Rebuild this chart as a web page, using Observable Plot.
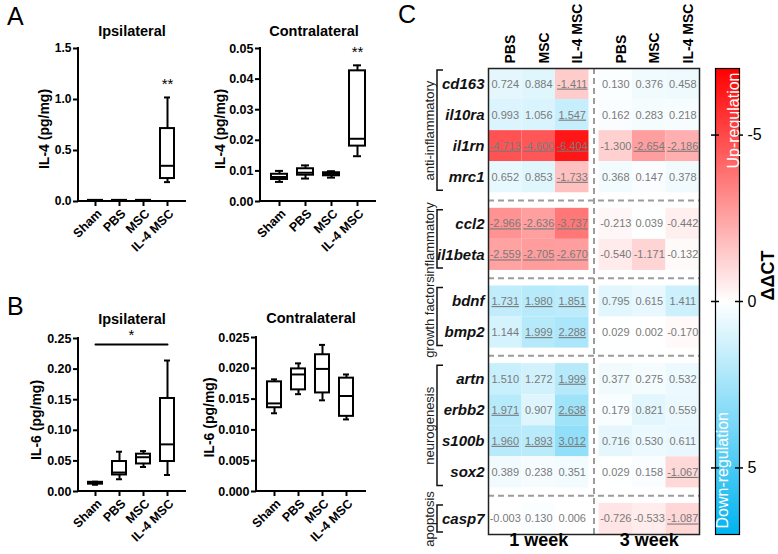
<!DOCTYPE html>
<html><head><meta charset="utf-8">
<script src="https://cdn.jsdelivr.net/npm/d3@7"></script>
<script src="https://cdn.jsdelivr.net/npm/@observablehq/plot@0.6"></script>
<style>
body{margin:0;background:#fff;}
#root{position:relative;width:778px;height:554px;overflow:hidden;background:#fff;font-family:"Liberation Sans",Arial,sans-serif;}
#root > svg{position:absolute;}
</style></head><body><div id="root"></div>
<script>
// ---------- Panels A & B: box-plot summaries ----------
const groups = ["Sham", "PBS", "MSC", "IL-4 MSC"];

const il4IpsiMin = [0.005, 0.005, 0.005, 0.19];
const il4IpsiQ1  = [0.007, 0.007, 0.007, 0.225];
const il4IpsiMed = [0.009, 0.009, 0.009, 0.35];
const il4IpsiQ3  = [0.011, 0.011, 0.011, 0.715];
const il4IpsiMax = [0.013, 0.013, 0.013, 1.02];
const il4IpsiStars = ["", "", "", "**"];

const il4ContraMin = [0.0064, 0.0075, 0.0078, 0.0148];
const il4ContraQ1  = [0.0072, 0.0086, 0.0084, 0.0181];
const il4ContraMed = [0.0080, 0.0094, 0.0090, 0.0205];
const il4ContraQ3  = [0.0089, 0.0107, 0.0094, 0.0427];
const il4ContraMax = [0.0100, 0.0118, 0.0099, 0.0445];
const il4ContraStars = ["", "", "", "**"];

const il6IpsiMin = [0.011, 0.020, 0.040, 0.027];
const il6IpsiQ1  = [0.012, 0.027, 0.045, 0.049];
const il6IpsiMed = [0.014, 0.031, 0.056, 0.077];
const il6IpsiQ3  = [0.015, 0.049, 0.061, 0.152];
const il6IpsiMax = [0.016, 0.065, 0.066, 0.214];
const il6IpsiSig = [{g: "Sham", y: 0.24}, {g: "IL-4 MSC", y: 0.24}];
const il6IpsiSigLabel = "*";

const il6ContraMin = [0.0127, 0.0158, 0.0148, 0.0117];
const il6ContraQ1  = [0.0136, 0.0165, 0.0160, 0.0122];
const il6ContraMed = [0.0143, 0.0190, 0.0199, 0.0155];
const il6ContraQ3  = [0.0178, 0.0199, 0.0222, 0.0184];
const il6ContraMax = [0.0182, 0.0208, 0.0238, 0.0190];

const il4IpsiTicks = [0, 0.5, 1.0, 1.5];
const il4ContraTicks = [0, 0.01, 0.02, 0.03, 0.04, 0.05];
const il6IpsiTicks = [0, 0.05, 0.10, 0.15, 0.20, 0.25];
const il6ContraTicks = [0, 0.005, 0.010, 0.015, 0.020, 0.025];

// ---------- Panel C: heatmap ----------
const groupNames = ["anti-inflammatory", "inflammatory", "growth factors", "neurogenesis", "apoptosis"];
const groupGenes = [["cd163", "il10ra", "il1rn", "mrc1"], ["ccl2", "il1beta"], ["bdnf", "bmp2"],
                    ["artn", "erbb2", "s100b", "sox2"], ["casp7"]];
const treatments = ["PBS", "MSC", "IL-4 MSC"];
const weeks = ["1 week", "3 week"];
const ddct1w = [
  [0.724, 0.884, -1.411], [0.993, 1.056, 1.547], [-4.713, -4.600, -6.404], [0.652, 0.853, -1.733],
  [-2.966, -2.636, -3.737], [-2.559, -2.705, -2.670],
  [1.731, 1.980, 1.851], [1.144, 1.999, 2.288],
  [1.510, 1.272, 1.999], [1.971, 0.907, 2.638], [1.960, 1.893, 3.012], [0.389, 0.238, 0.351],
  [-0.003, 0.130, 0.006]
];
const sig1w = [
  [0, 0, 1], [0, 0, 1], [1, 1, 1], [0, 0, 1],
  [1, 1, 1], [1, 1, 1],
  [1, 1, 1], [0, 1, 1],
  [0, 0, 1], [1, 0, 1], [1, 1, 1], [0, 0, 0],
  [0, 0, 0]
];
const ddct3w = [
  [0.130, 0.376, 0.458], [0.162, 0.283, 0.218], [-1.300, -2.654, -2.186], [0.368, 0.147, 0.378],
  [-0.213, 0.039, -0.442], [-0.540, -1.171, -0.132],
  [0.795, 0.615, 1.411], [0.029, 0.002, -0.170],
  [0.377, 0.275, 0.532], [0.179, 0.821, 0.559], [0.716, 0.530, 0.611], [0.029, 0.158, -1.067],
  [-0.726, -0.533, -1.087]
];
const sig3w = [
  [0, 0, 0], [0, 0, 0], [0, 1, 1], [0, 0, 0],
  [0, 0, 0], [0, 0, 0],
  [0, 0, 0], [0, 0, 0],
  [0, 0, 0], [0, 0, 0], [0, 0, 0], [0, 0, 1],
  [0, 0, 1]
];
const colorTicks = [-5, 0, 5];
const colorDomain = [-7, 0, 7];
const colorRange = ["#ff0000", "#ffffff", "#00b4f0"];

// ---------- helpers ----------
const root = document.getElementById("root");
const FONT = '"Liberation Sans", Arial, sans-serif';
function place(svg, left, top) { svg.style.left = left + "px"; svg.style.top = top + "px"; root.appendChild(svg); }

function axisLines(index, scales, values, dim) {
  const {width, height, marginLeft, marginRight, marginTop, marginBottom} = dim;
  const p = document.createElementNS("http://www.w3.org/2000/svg", "path");
  p.setAttribute("d", `M${marginLeft},${marginTop}V${height - marginBottom}H${width - marginRight}`);
  p.setAttribute("fill", "none"); p.setAttribute("stroke", "#000"); p.setAttribute("stroke-width", 2);
  p.setAttribute("stroke-linecap", "square");
  return p;
}

function boxChart(c) {
  const data = groups.map((g, i) => ({g, min: c.min[i], q1: c.q1[i], med: c.med[i], q3: c.q3[i], max: c.max[i],
    star: c.stars ? c.stars[i] : ""}));
  const marks = [
    Plot.ruleX(data, {x: "g", y1: "min", y2: "q1", stroke: "#000", strokeWidth: 2}),
    Plot.ruleX(data, {x: "g", y1: "q3", y2: "max", stroke: "#000", strokeWidth: 2}),
    Plot.tickY(data, {x: "g", y: "min", stroke: "#000", strokeWidth: 2, insetLeft: 4, insetRight: 4}),
    Plot.tickY(data, {x: "g", y: "max", stroke: "#000", strokeWidth: 2, insetLeft: 4, insetRight: 4}),
    Plot.barY(data, {x: "g", y1: "q1", y2: "q3", fill: "#fff", stroke: "#000", strokeWidth: 2}),
    Plot.tickY(data, {x: "g", y: "med", stroke: "#000", strokeWidth: 2}),
    Plot.axisY({ticks: c.ticks, tickFormat: d3.format(c.fmt), tickSize: 5, tickPadding: 2, strokeWidth: 2,
      fontSize: c.fs, label: null}),
    Plot.axisX({tickSize: 5, strokeWidth: 2, tickFormat: () => "", label: null}),
    Plot.axisX({tickSize: 0, tickRotate: -45, fontSize: 12.5, label: null, tickPadding: 6, dx: 4, dy: 4}),
    axisLines,
    Plot.text([c.title], {frameAnchor: "top", dy: c.titleDy, dx: c.titleDx || 0, fontSize: 14.5, fontWeight: "bold"}),
    Plot.text([c.yLabel], {frameAnchor: "left", textAnchor: "middle", dx: c.labelDx, dy: c.labelDy || 0, rotate: -90, fontSize: 14, fontWeight: "bold"}),
    Plot.text(data.filter(d => d.star), {x: "g", y: "max", text: "star", dy: -13, fontSize: 15, fontWeight: "normal"})
  ];
  if (c.sig) {
    marks.push(Plot.line(c.sig, {x: "g", y: "y", stroke: "#000", strokeWidth: 2}));
    marks.push(Plot.text([c.sigLabel], {x: () => "PBS", y: () => c.sig[0].y, dx: 12, dy: -9, fontSize: 15, fontWeight: "normal"}));
  }
  return Plot.plot({
    width: c.width, height: c.height,
    marginLeft: c.ml, marginRight: c.mr, marginTop: c.mt, marginBottom: c.mb,
    style: {fontFamily: FONT, fontWeight: "bold", color: "#000", background: "transparent", overflow: "visible"},
    x: {type: "band", domain: groups, padding: 0.4, label: null},
    y: {domain: c.domain, label: null},
    marks
  });
}

// ---------- Panel A ----------
place(boxChart({min: il4IpsiMin, q1: il4IpsiQ1, med: il4IpsiMed, q3: il4IpsiQ3, max: il4IpsiMax, stars: il4IpsiStars,
  ticks: il4IpsiTicks, fmt: ".1f", domain: [0, 1.5], fs: 12, title: "Ipsilateral", titleDy: -23, yLabel: "IL-4 (pg/mg)",
  labelDx: -34, labelDy: 4, width: 190, height: 270, ml: 78, mr: 5, mt: 48, mb: 69}), 0, 0);

place(boxChart({min: il4ContraMin, q1: il4ContraQ1, med: il4ContraMed, q3: il4ContraQ3, max: il4ContraMax, stars: il4ContraStars,
  ticks: il4ContraTicks, fmt: ".2f", domain: [0, 0.05], fs: 12.5, title: "Contralateral", titleDy: -23, titleDx: -4, yLabel: "IL-4 (pg/mg)",
  labelDx: -40, labelDy: 4, width: 190, height: 270, ml: 70, mr: 5, mt: 48, mb: 69}), 190, 0);

// ---------- Panel B ----------
place(boxChart({min: il6IpsiMin, q1: il6IpsiQ1, med: il6IpsiMed, q3: il6IpsiQ3, max: il6IpsiMax,
  sig: il6IpsiSig, sigLabel: il6IpsiSigLabel,
  ticks: il6IpsiTicks, fmt: ".2f", domain: [0, 0.25], fs: 12.5, title: "Ipsilateral", titleDy: -25, yLabel: "IL-6 (pg/mg)",
  labelDx: -42, labelDy: 5, width: 190, height: 284, ml: 78, mr: 5, mt: 68, mb: 63}), 0, 270);

place(boxChart({min: il6ContraMin, q1: il6ContraQ1, med: il6ContraMed, q3: il6ContraQ3, max: il6ContraMax,
  ticks: il6ContraTicks, fmt: ".3f", domain: [0, 0.025], fs: 12.5, title: "Contralateral", titleDy: -25, yLabel: "IL-6 (pg/mg)",
  labelDx: -47, labelDy: 3, width: 190, height: 284, ml: 66, mr: 15, mt: 67, mb: 63}), 190, 270);

// ---------- Panel C: heatmap layout from structure ----------
const rowGap = 0.5, colGap = 0.3;
const rows = [], groupSpans = [], gapCenters = [];
let pos = 0;
groupGenes.forEach((genes, gi) => {
  if (gi > 0) { gapCenters.push(pos + rowGap / 2); pos += rowGap; }
  const start = pos;
  genes.forEach(gene => { rows.push({gene, y1: pos}); pos += 1; });
  groupSpans.push({name: groupNames[gi], y1: start, y2: pos, mid: (start + pos) / 2});
});
const rowsTotal = pos;
const colStep = treatments.length + colGap;
const cols = [];
weeks.forEach((wk, wi) => treatments.forEach((t, ti) => cols.push({wk, wi, t, ti, x1: wi * colStep + ti})));
const colsTotal = weeks.length * colStep - colGap;
const weekLabels = weeks.map((wk, wi) => ({wk, x: wi * colStep + treatments.length / 2}));
const weekGaps = weeks.slice(1).map((wk, wi) => (wi + 1) * colStep - colGap / 2);

const cells = [];
rows.forEach((r, ri) => cols.forEach(c => {
  const v = (c.wi === 0 ? ddct1w : ddct3w)[ri][c.ti];
  const s = (c.wi === 0 ? sig1w : sig3w)[ri][c.ti];
  cells.push({x1: c.x1, x2: c.x1 + 1, y1: r.y1, y2: r.y1 + 1, v, s, label: v.toFixed(3)});
}));

const colorCfg = {type: "linear", domain: colorDomain, range: colorRange, interpolate: "rgb", clamp: true};

function brackets(index, scales, values, dim) {
  const g = document.createElementNS("http://www.w3.org/2000/svg", "g");
  g.setAttribute("fill", "none"); g.setAttribute("stroke", "#111"); g.setAttribute("stroke-width", 1.5);
  const x = dim.marginLeft - 51, x2 = x + 6;
  for (const s of groupSpans) {
    const a = scales.y(s.y1) + 2, b = scales.y(s.y2) - 2;
    const p = document.createElementNS("http://www.w3.org/2000/svg", "path");
    p.setAttribute("d", `M${x2},${a}H${x}V${b}H${x2}`);
    g.appendChild(p);
  }
  return g;
}

const heat = Plot.plot({
  width: 310, height: 554, marginLeft: 88, marginRight: 11, marginTop: 68, marginBottom: 20,
  style: {fontFamily: FONT, fontSize: "12px", color: "#000", background: "transparent", overflow: "visible"},
  x: {type: "linear", domain: [0, colsTotal], axis: null},
  y: {type: "linear", domain: [0, rowsTotal], reverse: true, axis: null},
  color: colorCfg,
  marks: [
    Plot.rect(cells, {x1: "x1", x2: "x2", y1: "y1", y2: "y2", fill: "v"}),
    Plot.text(cells, {x: d => d.x1 + 0.5, y: d => d.y1 + 0.5, text: "label", fill: "#7a7a7a", fontSize: 11}),
    Plot.ruleY(gapCenters, {stroke: "#9c9c9c", strokeWidth: 2, strokeDasharray: "6,4"}),
    Plot.ruleX(weekGaps, {stroke: "#9c9c9c", strokeWidth: 2, strokeDasharray: "6,4"}),
    Plot.frame({stroke: "#222", strokeWidth: 1.5}),
    Plot.text(rows, {y: d => d.y1 + 0.5, text: "gene", frameAnchor: "left", dx: -4, textAnchor: "end",
      fontSize: 15, fontWeight: "bold", fontStyle: "italic", fill: "#111"}),
    Plot.text(cols, {x: d => d.x1 + 0.5, text: "t", frameAnchor: "top", dy: -5, rotate: -90, textAnchor: "start",
      fontSize: 14, fontWeight: "bold", fill: "#000"}),
    Plot.text(groupSpans, {y: "mid", text: "name", frameAnchor: "left", textAnchor: "middle", dx: -59, rotate: -90,
      fontSize: 13, fill: "#222"}),
    brackets,
    Plot.text(weekLabels, {x: "x", text: "wk", frameAnchor: "bottom", dy: 11, fontSize: 18, fontWeight: "bold", fill: "#000"})
  ]
});
// underline significant cell values (first text mark = cell labels, rendered in data order)
{
  const tg = heat.querySelector('g[aria-label="text"]');
  if (tg) Array.from(tg.querySelectorAll("text")).forEach((t, i) => {
    if (cells[i] && cells[i].s) t.style.textDecoration = "underline";
  });
}
place(heat, 400, 0);

// ---------- colour bar ----------
const bar = Plot.plot({
  width: 78, height: 554, marginLeft: 15, marginRight: 39, marginTop: 68, marginBottom: 20,
  style: {fontFamily: FONT, color: "#000", background: "transparent", overflow: "visible"},
  x: {domain: [0, 1], axis: null},
  y: {domain: [colorDomain[0], colorDomain[2]], reverse: true, axis: null},
  color: colorCfg,
  marks: [
    Plot.raster({fill: (x, y) => y, x1: 0, x2: 1, y1: colorDomain[0], y2: colorDomain[2]}),
    Plot.frame({stroke: "#000", strokeWidth: 1.2}),
    Plot.ruleY(colorTicks, {insetRight: 16, dx: -4, stroke: "#000", strokeWidth: 1.5}),
    Plot.ruleY(colorTicks, {insetLeft: 16, dx: 4, stroke: "#000", strokeWidth: 1.5}),
    Plot.axisY({anchor: "right", ticks: colorTicks, tickSize: 0, tickPadding: 8, tickFormat: d => String(d),
      fontSize: 16, label: null}),
    Plot.text(["Up-regulation"], {frameAnchor: "top", dy: 4, rotate: -90, textAnchor: "end", fill: "#fff", fontSize: 16}),
    Plot.text(["Down-regulation"], {frameAnchor: "bottom", dy: -6, rotate: -90, textAnchor: "start", fill: "#fff", fontSize: 16}),
    Plot.text(["ΔΔCT"], {frameAnchor: "right", textAnchor: "middle", dx: 29, dy: -26, rotate: -90, fontSize: 18, fontWeight: "bold", fill: "#000"})
  ]
});
place(bar, 700, 0);

// ---------- panel letters ----------
{
  const svg = d3.create("svg").attr("width", 778).attr("height", 554).style("left", "0px").style("top", "0px")
    .style("font-family", FONT).style("pointer-events", "none");
  [["A", 7, 25], ["B", 7, 315], ["C", 398, 23]].forEach(([t, x, y]) =>
    svg.append("text").attr("x", x).attr("y", y).attr("font-size", 25).attr("fill", "#000").text(t));
  root.appendChild(svg.node());
}
</script></body></html>
